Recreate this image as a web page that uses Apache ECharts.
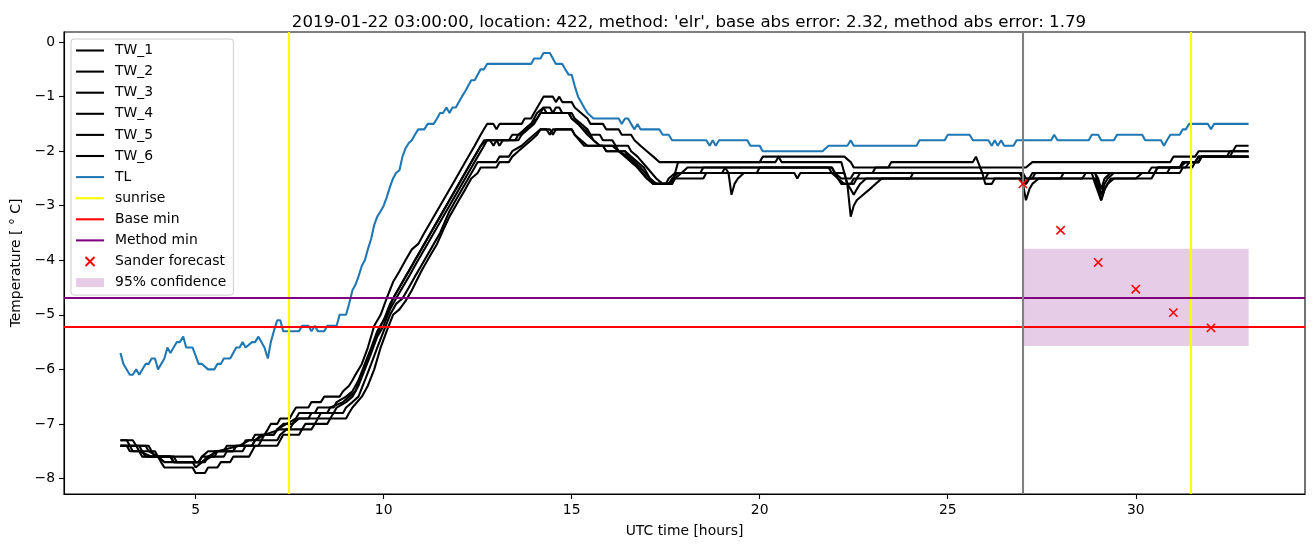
<!DOCTYPE html>
<html>
<head>
<meta charset="utf-8">
<script src="https://cdn.jsdelivr.net/npm/echarts@6/dist/echarts.min.js"></script>
<style>
html,body{margin:0;padding:0;background:#fff;}
#chart{width:1313px;height:547px;}
</style>
</head>
<body>
<div id="chart"></div>
<script>
// ---- data (hours UTC, temperature °C) ----
const tw1 = [[3.0,-7.3],[3.33,-7.3],[3.42,-7.4],[3.75,-7.4],[3.83,-7.5],[3.92,-7.6],[4.92,-7.6],[5.0,-7.7],[5.08,-7.7],[5.17,-7.6],[5.33,-7.5],[5.75,-7.5],[5.83,-7.4],[6.25,-7.4],[6.33,-7.3],[6.5,-7.3],[6.58,-7.2],[6.83,-7.2],[6.92,-7.1],[7.0,-7.0],[7.17,-7.0],[7.25,-6.9],[7.5,-6.9],[7.58,-6.8],[7.67,-6.7],[8.0,-6.7],[8.08,-6.6],[8.33,-6.6],[8.42,-6.5],[8.83,-6.5],[8.92,-6.4],[9.08,-6.3],[9.17,-6.2],[9.25,-6.1],[9.42,-5.9],[9.58,-5.6],[9.75,-5.2],[9.92,-5.0],[10.08,-4.7],[10.25,-4.4],[10.42,-4.2],[10.58,-4.0],[10.75,-3.8],[10.92,-3.7],[11.08,-3.5],[11.25,-3.3],[11.5,-3.0],[11.67,-2.8],[11.92,-2.5],[12.17,-2.2],[12.42,-1.9],[12.58,-1.7],[12.75,-1.5],[12.92,-1.5],[13.0,-1.6],[13.08,-1.5],[13.67,-1.5],[13.75,-1.4],[13.92,-1.4],[14.0,-1.3],[14.17,-1.1],[14.25,-1.0],[14.5,-1.0],[14.58,-1.1],[14.67,-1.0],[14.75,-1.1],[15.0,-1.1],[15.08,-1.2],[15.25,-1.3],[15.42,-1.4],[15.5,-1.5],[15.83,-1.5],[15.92,-1.6],[16.25,-1.6],[16.33,-1.7],[16.58,-1.7],[16.67,-1.8],[16.83,-1.9],[17.0,-2.0],[17.17,-2.1],[17.33,-2.2],[20.42,-2.2],[20.5,-2.1],[22.25,-2.1],[22.42,-2.2],[22.5,-2.3],[23.42,-2.3],[23.5,-2.2],[25.67,-2.2],[25.75,-2.1],[25.92,-2.4],[26.0,-2.6],[26.17,-2.6],[26.25,-2.5],[27.0,-2.5],[27.08,-2.6],[27.17,-2.5],[28.92,-2.5],[29.08,-2.9],[29.17,-2.7],[29.25,-2.6],[29.33,-2.5],[30.42,-2.5],[30.5,-2.4],[31.17,-2.4],[31.25,-2.3],[31.5,-2.3],[31.58,-2.2],[31.67,-2.2],[31.75,-2.1],[33.0,-2.1]];
const tw2 = [[3.0,-7.4],[3.5,-7.4],[3.58,-7.5],[3.92,-7.5],[4.0,-7.6],[4.17,-7.7],[5.08,-7.7],[5.17,-7.6],[5.42,-7.6],[5.5,-7.5],[6.0,-7.5],[6.08,-7.4],[6.5,-7.4],[6.58,-7.3],[6.75,-7.2],[7.08,-7.2],[7.17,-7.1],[7.33,-7.0],[7.58,-7.0],[7.67,-6.9],[7.75,-6.8],[8.17,-6.8],[8.25,-6.7],[8.67,-6.7],[8.75,-6.6],[9.0,-6.5],[9.17,-6.4],[9.33,-6.2],[9.5,-5.9],[9.67,-5.6],[9.83,-5.3],[10.0,-5.1],[10.17,-4.8],[10.33,-4.6],[10.5,-4.4],[10.67,-4.2],[10.83,-4.0],[11.0,-3.8],[11.25,-3.5],[11.5,-3.2],[11.75,-2.9],[12.0,-2.6],[12.25,-2.3],[12.5,-2.0],[12.67,-1.8],[12.83,-1.8],[12.92,-1.9],[13.0,-1.8],[13.5,-1.8],[13.58,-1.7],[13.75,-1.6],[13.92,-1.5],[14.08,-1.3],[14.25,-1.2],[14.33,-1.3],[14.5,-1.3],[14.58,-1.2],[14.67,-1.2],[14.75,-1.3],[14.92,-1.3],[15.0,-1.4],[15.17,-1.5],[15.33,-1.6],[15.5,-1.7],[15.75,-1.7],[15.83,-1.8],[16.08,-1.8],[16.17,-1.9],[16.5,-1.9],[16.58,-2.0],[16.75,-2.1],[17.0,-2.3],[17.25,-2.5],[17.42,-2.6],[17.67,-2.6],[17.75,-2.4],[17.83,-2.2],[20.0,-2.2],[20.08,-2.1],[20.5,-2.1],[20.58,-2.2],[22.17,-2.2],[22.25,-2.4],[22.33,-2.6],[22.5,-2.6],[22.58,-2.5],[22.67,-2.4],[23.0,-2.4],[23.08,-2.3],[27.08,-2.3],[27.25,-2.2],[30.92,-2.2],[31.0,-2.1],[31.58,-2.1],[31.67,-2.0],[32.58,-2.0],[32.67,-1.9],[33.0,-1.9]];
const tw3 = [[3.0,-7.3],[3.17,-7.3],[3.25,-7.4],[3.67,-7.4],[3.75,-7.5],[4.0,-7.6],[4.42,-7.6],[4.5,-7.7],[4.92,-7.7],[5.0,-7.8],[5.17,-7.7],[5.42,-7.6],[5.5,-7.6],[5.58,-7.5],[6.0,-7.5],[6.08,-7.4],[6.5,-7.4],[6.58,-7.3],[6.83,-7.2],[7.08,-7.2],[7.17,-7.1],[7.42,-7.0],[7.67,-6.9],[8.0,-6.9],[8.08,-6.8],[8.5,-6.8],[8.58,-6.7],[8.92,-6.6],[9.08,-6.5],[9.25,-6.4],[9.42,-6.1],[9.58,-5.8],[9.75,-5.5],[9.92,-5.2],[10.08,-5.0],[10.25,-4.7],[10.42,-4.5],[10.58,-4.3],[10.75,-4.1],[10.92,-3.9],[11.08,-3.7],[11.33,-3.4],[11.58,-3.1],[11.83,-2.8],[12.08,-2.5],[12.33,-2.2],[12.58,-1.9],[12.75,-1.8],[13.33,-1.8],[13.42,-1.7],[13.67,-1.7],[13.75,-1.6],[13.92,-1.5],[14.08,-1.4],[14.17,-1.3],[14.25,-1.2],[14.42,-1.2],[14.5,-1.3],[14.92,-1.3],[15.0,-1.4],[15.17,-1.5],[15.42,-1.7],[15.58,-1.8],[15.75,-1.9],[16.08,-1.9],[16.25,-2.0],[16.42,-2.1],[16.58,-2.2],[16.75,-2.3],[17.0,-2.5],[17.17,-2.6],[17.5,-2.6],[17.58,-2.5],[17.75,-2.4],[19.0,-2.4],[19.08,-2.3],[19.17,-2.4],[19.25,-2.8],[19.33,-2.6],[19.42,-2.5],[19.58,-2.4],[20.92,-2.4],[21.0,-2.5],[21.08,-2.4],[22.25,-2.4],[22.33,-2.6],[22.42,-3.2],[22.5,-3.0],[22.58,-2.9],[22.75,-2.8],[22.92,-2.7],[23.08,-2.6],[23.25,-2.5],[26.92,-2.5],[27.0,-2.6],[27.08,-2.9],[27.17,-2.7],[27.25,-2.6],[27.42,-2.5],[28.58,-2.5],[28.67,-2.4],[28.83,-2.4],[28.92,-2.6],[29.08,-2.9],[29.17,-2.7],[29.25,-2.6],[29.42,-2.5],[30.0,-2.5],[30.17,-2.4],[30.83,-2.4],[30.92,-2.3],[31.17,-2.3],[31.33,-2.2],[31.58,-2.2],[31.67,-2.1],[32.42,-2.1],[32.5,-2.0],[33.0,-2.0]];
const tw4 = [[3.0,-7.4],[3.42,-7.4],[3.5,-7.5],[3.83,-7.6],[4.33,-7.6],[4.42,-7.7],[5.17,-7.7],[5.33,-7.6],[5.58,-7.5],[6.17,-7.4],[6.42,-7.3],[6.75,-7.3],[6.83,-7.2],[7.25,-7.1],[7.5,-7.1],[7.58,-7.0],[7.75,-6.9],[8.25,-6.9],[8.33,-6.8],[8.67,-6.8],[8.75,-6.7],[9.0,-6.6],[9.17,-6.5],[9.33,-6.3],[9.5,-6.0],[9.67,-5.7],[9.83,-5.4],[10.0,-5.2],[10.17,-4.9],[10.33,-4.7],[10.5,-4.5],[10.67,-4.3],[10.83,-4.1],[11.0,-3.9],[11.25,-3.6],[11.5,-3.3],[11.75,-3.0],[12.0,-2.7],[12.25,-2.4],[12.5,-2.1],[12.67,-1.9],[12.75,-1.8],[13.0,-1.8],[13.08,-1.9],[13.17,-1.8],[13.58,-1.8],[13.67,-1.7],[13.83,-1.6],[14.0,-1.5],[14.17,-1.3],[15.0,-1.3],[15.08,-1.4],[15.25,-1.5],[15.42,-1.6],[15.58,-1.8],[15.75,-1.9],[16.17,-1.9],[16.25,-2.0],[16.5,-2.1],[16.75,-2.3],[17.0,-2.5],[17.17,-2.6],[17.67,-2.6],[17.75,-2.5],[17.92,-2.4],[18.08,-2.3],[21.92,-2.3],[22.0,-2.4],[22.17,-2.5],[22.42,-2.5],[22.5,-2.4],[26.92,-2.4],[27.0,-2.5],[27.17,-2.5],[27.25,-2.4],[28.92,-2.4],[29.0,-2.6],[29.08,-2.8],[29.17,-2.6],[29.25,-2.5],[29.42,-2.4],[30.5,-2.4],[30.58,-2.3],[31.17,-2.3],[31.25,-2.2],[31.67,-2.2],[31.75,-2.1],[33.0,-2.1]];
const tw5 = [[3.0,-7.4],[3.17,-7.4],[3.25,-7.5],[3.5,-7.5],[3.58,-7.6],[4.33,-7.6],[4.42,-7.7],[5.25,-7.7],[5.33,-7.6],[5.75,-7.6],[5.83,-7.5],[6.25,-7.5],[6.33,-7.4],[6.67,-7.4],[6.75,-7.3],[7.17,-7.3],[7.25,-7.2],[7.42,-7.1],[7.83,-7.1],[7.92,-7.0],[8.17,-7.0],[8.25,-6.9],[8.58,-6.9],[8.67,-6.8],[8.92,-6.8],[9.0,-6.7],[9.17,-6.6],[9.33,-6.5],[9.5,-6.2],[9.67,-5.9],[9.83,-5.6],[10.0,-5.3],[10.17,-5.0],[10.33,-4.8],[10.5,-4.7],[10.67,-4.5],[10.83,-4.3],[11.0,-4.1],[11.25,-3.8],[11.5,-3.5],[11.75,-3.1],[12.0,-2.8],[12.25,-2.5],[12.42,-2.3],[12.5,-2.2],[13.0,-2.2],[13.08,-2.1],[13.33,-2.1],[13.42,-2.0],[13.67,-1.9],[13.83,-1.8],[14.0,-1.7],[14.17,-1.6],[14.42,-1.6],[14.5,-1.7],[14.58,-1.6],[15.0,-1.6],[15.08,-1.7],[15.25,-1.8],[15.42,-1.9],[15.83,-1.9],[15.92,-2.0],[16.42,-2.0],[16.5,-2.1],[16.67,-2.2],[16.83,-2.3],[17.08,-2.5],[17.25,-2.6],[17.58,-2.6],[17.75,-2.5],[18.5,-2.5],[18.58,-2.4],[19.92,-2.4],[20.0,-2.3],[21.92,-2.3],[22.0,-2.4],[22.08,-2.5],[22.17,-2.6],[22.33,-2.6],[22.42,-2.7],[22.5,-2.8],[22.58,-2.7],[22.67,-2.6],[22.83,-2.5],[26.0,-2.5],[26.08,-2.4],[26.92,-2.4],[27.0,-2.5],[27.08,-2.6],[27.17,-2.5],[28.0,-2.5],[28.08,-2.4],[28.92,-2.4],[29.0,-2.5],[29.08,-2.7],[29.17,-2.5],[29.33,-2.4],[30.33,-2.4],[30.42,-2.3],[31.33,-2.3],[31.42,-2.2],[31.67,-2.2],[31.75,-2.1],[33.0,-2.1]];
const tw6 = [[3.0,-7.4],[3.25,-7.4],[3.33,-7.5],[3.58,-7.5],[3.67,-7.6],[4.0,-7.6],[4.08,-7.7],[4.17,-7.8],[4.92,-7.8],[5.0,-7.9],[5.25,-7.9],[5.33,-7.8],[5.58,-7.8],[5.67,-7.7],[5.92,-7.7],[6.0,-7.6],[6.42,-7.6],[6.5,-7.5],[6.58,-7.4],[7.17,-7.4],[7.25,-7.3],[7.33,-7.2],[7.75,-7.2],[7.83,-7.1],[8.08,-7.1],[8.17,-7.0],[8.5,-7.0],[8.58,-6.9],[9.0,-6.9],[9.08,-6.8],[9.17,-6.7],[9.42,-6.5],[9.58,-6.3],[9.75,-6.0],[9.92,-5.6],[10.08,-5.3],[10.25,-5.0],[10.42,-4.9],[10.58,-4.75],[10.75,-4.55],[11.0,-4.2],[11.25,-3.9],[11.42,-3.7],[11.58,-3.45],[11.75,-3.2],[12.0,-2.9],[12.17,-2.7],[12.33,-2.5],[12.5,-2.4],[12.58,-2.3],[13.0,-2.3],[13.08,-2.2],[13.33,-2.2],[13.42,-2.1],[13.58,-2.0],[13.75,-1.9],[13.92,-1.8],[14.08,-1.7],[14.17,-1.6],[14.33,-1.6],[14.42,-1.7],[14.5,-1.6],[15.0,-1.6],[15.08,-1.7],[15.33,-1.9],[15.83,-1.9],[15.92,-2.0],[16.42,-2.0],[16.58,-2.1],[16.75,-2.2],[16.92,-2.3],[17.08,-2.5],[17.25,-2.6],[17.58,-2.6],[17.67,-2.5],[17.83,-2.4],[18.42,-2.4],[18.5,-2.3],[21.83,-2.3],[21.92,-2.4],[22.08,-2.5],[22.25,-2.6],[22.42,-2.6],[22.5,-2.5],[24.0,-2.5],[24.08,-2.4],[27.0,-2.4],[27.08,-2.5],[27.25,-2.5],[27.33,-2.4],[30.5,-2.4],[30.58,-2.3],[31.17,-2.3],[31.25,-2.2],[31.58,-2.2],[31.67,-2.1],[32.5,-2.1],[32.58,-2.0],[33.0,-2.0]];
const tl = [[3.0,-5.7],[3.08,-5.9],[3.25,-6.1],[3.33,-6.1],[3.42,-6.0],[3.5,-6.1],[3.67,-5.9],[3.75,-5.9],[3.83,-5.8],[3.92,-5.8],[4.0,-6.0],[4.17,-5.8],[4.25,-5.6],[4.33,-5.7],[4.5,-5.5],[4.58,-5.5],[4.67,-5.4],[4.75,-5.6],[4.92,-5.6],[5.08,-5.9],[5.17,-5.9],[5.33,-6.0],[5.5,-6.0],[5.58,-5.9],[5.67,-5.9],[5.75,-5.8],[5.92,-5.8],[6.08,-5.6],[6.17,-5.6],[6.25,-5.5],[6.33,-5.6],[6.5,-5.5],[6.58,-5.5],[6.67,-5.4],[6.83,-5.6],[6.92,-5.8],[7.0,-5.5],[7.08,-5.3],[7.17,-5.1],[7.25,-5.1],[7.33,-5.3],[7.75,-5.3],[7.83,-5.2],[8.0,-5.2],[8.08,-5.3],[8.17,-5.2],[8.25,-5.3],[8.42,-5.3],[8.5,-5.2],[8.75,-5.2],[8.83,-5.0],[9.0,-5.0],[9.08,-4.8],[9.17,-4.55],[9.25,-4.45],[9.33,-4.3],[9.42,-4.1],[9.5,-4.0],[9.58,-3.8],[9.67,-3.6],[9.75,-3.35],[9.83,-3.2],[9.92,-3.1],[10.0,-3.0],[10.08,-2.85],[10.17,-2.65],[10.25,-2.5],[10.33,-2.4],[10.42,-2.35],[10.5,-2.1],[10.58,-1.95],[10.67,-1.85],[10.75,-1.8],[10.83,-1.7],[10.92,-1.6],[11.08,-1.6],[11.17,-1.5],[11.33,-1.5],[11.42,-1.4],[11.5,-1.3],[11.58,-1.3],[11.67,-1.2],[11.75,-1.3],[11.83,-1.2],[11.92,-1.2],[12.0,-1.1],[12.08,-1.0],[12.17,-0.9],[12.25,-0.8],[12.33,-0.7],[12.42,-0.7],[12.5,-0.6],[12.58,-0.5],[12.67,-0.5],[12.75,-0.4],[13.92,-0.4],[14.0,-0.3],[14.17,-0.3],[14.25,-0.2],[14.42,-0.2],[14.5,-0.3],[14.58,-0.4],[14.75,-0.4],[14.83,-0.5],[14.92,-0.6],[15.0,-0.6],[15.08,-0.8],[15.17,-1.0],[15.25,-1.1],[15.33,-1.2],[15.42,-1.3],[15.58,-1.4],[16.25,-1.4],[16.33,-1.5],[16.42,-1.4],[16.5,-1.4],[16.58,-1.5],[16.67,-1.6],[16.75,-1.5],[16.83,-1.6],[17.33,-1.6],[17.42,-1.7],[17.58,-1.7],[17.67,-1.8],[18.58,-1.8],[18.67,-1.9],[18.75,-1.8],[18.83,-1.9],[18.92,-1.8],[19.67,-1.8],[19.75,-1.9],[20.0,-1.9],[20.08,-2.0],[21.67,-2.0],[21.83,-1.9],[22.33,-1.9],[22.42,-1.8],[22.5,-1.9],[24.17,-1.9],[24.25,-1.8],[24.92,-1.8],[25.0,-1.7],[25.58,-1.7],[25.67,-1.8],[26.08,-1.8],[26.17,-1.9],[26.25,-1.8],[26.33,-1.9],[26.42,-1.8],[26.5,-1.9],[26.75,-1.9],[26.83,-1.8],[27.75,-1.8],[27.83,-1.7],[27.92,-1.8],[28.75,-1.8],[28.83,-1.7],[29.0,-1.7],[29.08,-1.8],[29.42,-1.8],[29.5,-1.7],[30.17,-1.7],[30.25,-1.8],[30.67,-1.8],[30.75,-1.9],[30.83,-1.8],[30.92,-1.7],[31.17,-1.7],[31.25,-1.6],[31.33,-1.6],[31.42,-1.5],[31.92,-1.5],[32.0,-1.6],[32.08,-1.5],[33.0,-1.5]];
const forecastHours = [27, 28, 29, 30, 31, 32];
const forecastTemps = [-2.60, -3.45, -4.04, -4.53, -4.96, -5.24];
const sunriseHours = [7.48, 31.45];
const nowHour = 27;
const baseMin = -5.22;
const methodMin = -4.69;
const confHours = [27, 33];
const confTemps = [-5.57, -3.79];
const xTicks = [5, 10, 15, 20, 25, 30];
const yTicks = [-8, -7, -6, -5, -4, -3, -2, -1, 0];
const twNames = ['TW_1', 'TW_2', 'TW_3', 'TW_4', 'TW_5', 'TW_6'];
const twData = [tw1, tw2, tw3, tw4, tw5, tw6];

const FONT = 'DejaVu Sans';
const LW = 2.08;      // 1.5pt at 100 dpi
const FS = 13.9;      // 10pt at 100 dpi
const fmt = v => (v < 0 ? '\u2212' + Math.abs(v) : String(v));
const chart = echarts.init(document.getElementById('chart'), null, {renderer: 'canvas'});

const series = [];
twNames.forEach((n, i) => {
  series.push({name: n, type: 'line', data: twData[i], symbol: 'none', showSymbol: false,
    lineStyle: {color: '#000000', width: LW}, itemStyle: {color: '#000000'}, z: 3, silent: true});
});
series.push({name: 'TL', type: 'line', data: tl, symbol: 'none', showSymbol: false,
  lineStyle: {color: '#1f77b4', width: LW}, itemStyle: {color: '#1f77b4'}, z: 4, silent: true});
series.push({name: 'sunrise', type: 'line', data: [], symbol: 'none',
  lineStyle: {color: '#ffff00', width: LW}, itemStyle: {color: '#ffff00'}, z: 5,
  markLine: {silent: true, symbol: ['none', 'none'], label: {show: false},
    lineStyle: {color: '#ffff00', width: LW, type: 'solid'},
    data: sunriseHours.map(h => ({xAxis: h}))}});
series.push({name: 'Base min', type: 'line', data: [], symbol: 'none',
  lineStyle: {color: '#ff0000', width: LW}, itemStyle: {color: '#ff0000'}, z: 5,
  markLine: {silent: true, symbol: ['none', 'none'], label: {show: false},
    lineStyle: {color: '#ff0000', width: LW, type: 'solid'},
    data: [{yAxis: baseMin}]}});
series.push({name: 'Method min', type: 'line', data: [], symbol: 'none',
  lineStyle: {color: '#800080', width: LW}, itemStyle: {color: '#800080'}, z: 5,
  markLine: {silent: true, symbol: ['none', 'none'], label: {show: false},
    lineStyle: {color: '#800080', width: LW, type: 'solid'},
    data: [{yAxis: methodMin}]}});
series.push({name: 'Sander forecast', type: 'scatter',
  data: forecastHours.map((h, i) => [h, forecastTemps[i]]),
  symbol: 'path://M0,0L10,10M10,0L0,10', symbolSize: 8.3, symbolKeepAspect: true,
  itemStyle: {color: 'rgba(0,0,0,0)', borderColor: '#ff0000', borderWidth: 1.6, opacity: 1}, z: 7, silent: true});
series.push({name: '95% confidence', type: 'line', data: [], symbol: 'none',
  lineStyle: {color: 'rgba(128,0,128,0.2)', width: 0}, itemStyle: {color: 'rgba(128,0,128,0.2)'}, z: 1,
  markArea: {silent: true, itemStyle: {color: 'rgba(128,0,128,0.2)'},
    data: [[{coord: [confHours[0], confTemps[1]]}, {coord: [confHours[1], confTemps[0]]}]]}});
series.push({name: 'now', type: 'line', data: [], symbol: 'none', z: 6,
  markLine: {silent: true, symbol: ['none', 'none'], label: {show: false},
    lineStyle: {color: '#808080', width: LW, type: 'solid'},
    data: [{xAxis: nowHour}]}});

const lineNames = twNames.concat(['TL', 'sunrise', 'Base min', 'Method min']);
const legendData = lineNames.map(n => ({name: n, itemStyle: {opacity: 0}, lineStyle: {width: LW}}));
legendData.push({name: 'Sander forecast', itemStyle: {opacity: 1}});
legendData.push({name: '95% confidence', icon: 'rect', itemStyle: {color: 'rgba(128,0,128,0.2)', borderWidth: 0, opacity: 1}});

chart.setOption({
  animation: false,
  backgroundColor: '#ffffff',
  title: {text: "2019-01-22 03:00:00, location: 422, method: 'elr', base abs error: 2.32, method abs error: 1.79",
    left: 684, textAlign: 'center', top: 9,
    textStyle: {fontFamily: FONT, fontSize: 16.67, fontWeight: 'normal', color: '#000'}},
  legend: {
    data: legendData, orient: 'vertical', left: 71, top: 39,
    itemWidth: 28, itemHeight: 9, itemGap: 6.1,
    padding: [4, 7, 5, 4],
    backgroundColor: 'rgba(255,255,255,0.8)', borderColor: '#cccccc', borderWidth: 1, borderRadius: 3,
    textStyle: {fontFamily: FONT, fontSize: FS, color: '#000', lineHeight: 15, padding: [0, 0, 0, 6]},
    selectedMode: false
  },
  grid: {left: 64, right: 8, top: 32, bottom: 53, show: true, borderColor: '#000', borderWidth: 1.1, backgroundColor: 'transparent'},
  xAxis: {
    type: 'value', min: 1.5, max: 34.5,
    name: 'UTC time [hours]', nameLocation: 'middle', nameGap: 30,
    nameTextStyle: {fontFamily: FONT, fontSize: FS, color: '#000'},
    splitLine: {show: false},
    axisLine: {show: true, onZero: false, lineStyle: {color: '#000', width: 1.1}},
    axisTick: {show: true, length: 5, lineStyle: {color: '#000', width: 1.1}, customValues: xTicks},
    axisLabel: {fontFamily: FONT, fontSize: FS, color: '#000', margin: 9, customValues: xTicks, formatter: fmt}
  },
  yAxis: {
    type: 'value', min: -8.285, max: 0.185,
    name: 'Temperature [ \u00b0 C]', nameLocation: 'middle', nameGap: 41, nameRotate: 90,
    nameTextStyle: {fontFamily: FONT, fontSize: FS, color: '#000'},
    splitLine: {show: false},
    axisLine: {show: true, onZero: false, lineStyle: {color: '#000', width: 1.1}},
    axisTick: {show: true, length: 5, lineStyle: {color: '#000', width: 1.1}, customValues: yTicks},
    axisLabel: {fontFamily: FONT, fontSize: FS, color: '#000', margin: 9, customValues: yTicks, formatter: fmt}
  },
  series: series
});
</script>
</body>
</html>
